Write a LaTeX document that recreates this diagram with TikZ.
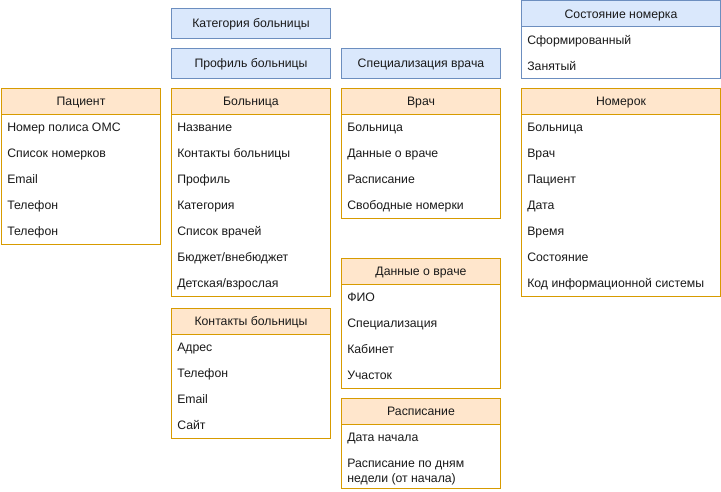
\documentclass[tikz,border=0pt]{standalone}
\usepackage{fontspec}
\setmainfont{Liberation Sans}
\definecolor{orfill}{HTML}{FFE6CC}
\definecolor{ordr}{HTML}{D79B00}
\definecolor{blfill}{HTML}{DAE8FC}
\definecolor{bldr}{HTML}{6C8EBF}
\definecolor{txt}{HTML}{1A1A1A}
\newcommand\px{0.75pt}
\tikzset{
  tx/.style={text=txt, font=\fontsize{9.2}{10.5}\selectfont, text height=7.35pt, text depth=1.15pt},
  ohead/.style={draw=ordr, fill=orfill, line width=\px, anchor=north west, inner sep=0pt, minimum height=26*\px, tx},
  obody/.style={draw=ordr, fill=white, line width=\px, anchor=north west, inner sep=0pt},
  bhead/.style={draw=bldr, fill=blfill, line width=\px, anchor=north west, inner sep=0pt, minimum height=26*\px, tx},
  bbody/.style={draw=bldr, fill=white, line width=\px, anchor=north west, inner sep=0pt},
  bsolo/.style={draw=bldr, fill=blfill, line width=\px, anchor=north west, inner sep=0pt, minimum height=30*\px, tx},
  item/.style={anchor=west, inner sep=0pt, tx},
  item2/.style={anchor=west, inner sep=0pt, text=txt, font=\fontsize{9.2}{11}\selectfont, align=left}
}
\begin{document}
\begin{tikzpicture}[x=0.75pt,y=-0.75pt]
\useasboundingbox (0,0) rectangle (721,492);
% blue boxes
\node[bsolo, minimum width=159*\px] (kat) at (171,8) {Категория больницы};
\node[bsolo, minimum width=159*\px] (prof) at (171,48) {Профиль больницы};
\node[bsolo, minimum width=159*\px] (spec) at (341,48) {Специализация врача};
% Состояние номерка
\node[bbody, minimum width=199*\px, minimum height=52*\px] (sostb) at (521,26) {};
\node[bhead, minimum width=199*\px] (sost) at (521,0.5) {Состояние номерка};
\node[item] (sost1) at (527,40) {Сформированный};
\node[item] (sost2) at (527,66) {Занятый};
% Пациент
\node[obody, minimum width=159*\px, minimum height=130*\px] (patb) at (1,114) {};
\node[ohead, minimum width=159*\px] (pat) at (1,88) {Пациент};
\foreach \t [count=\i] in {Номер полиса ОМС, Список номерков, Email, Телефон, Телефон}
  \node[item] (pat\i) at (7,101+26*\i) {\t};
% Больница
\node[obody, minimum width=159*\px, minimum height=182*\px] (hospb) at (171,114) {};
\node[ohead, minimum width=159*\px] (hosp) at (171,88) {Больница};
\foreach \t [count=\i] in {Название, Контакты больницы, Профиль, Категория, Список врачей, Бюджет/внебюджет, Детская/взрослая}
  \node[item] (hosp\i) at (177,101+26*\i) {\t};
% Контакты больницы
\node[obody, minimum width=159*\px, minimum height=104*\px] (contb) at (171,334) {};
\node[ohead, minimum width=159*\px] (cont) at (171,308) {Контакты больницы};
\foreach \t [count=\i] in {Адрес, Телефон, Email, Сайт}
  \node[item] (cont\i) at (177,321+26*\i) {\t};
% Врач
\node[obody, minimum width=159*\px, minimum height=104*\px] (docb) at (341,114) {};
\node[ohead, minimum width=159*\px] (doc) at (341,88) {Врач};
\foreach \t [count=\i] in {Больница, Данные о враче, Расписание, Свободные номерки}
  \node[item] (doc\i) at (347,101+26*\i) {\t};
% Данные о враче
\node[obody, minimum width=159*\px, minimum height=104*\px] (datab) at (341,284) {};
\node[ohead, minimum width=159*\px] (data) at (341,258) {Данные о враче};
\foreach \t [count=\i] in {ФИО, Специализация, Кабинет, Участок}
  \node[item] (data\i) at (347,271+26*\i) {\t};
% Расписание
\node[obody, minimum width=159*\px, minimum height=64*\px] (schb) at (341,424) {};
\node[ohead, minimum width=159*\px] (sch) at (341,398) {Расписание};
\node[item] (sch1) at (347,437) {Дата начала};
\node[item2] (sch2) at (347,472) {Расписание по дням\\недели (от начала)};
% Номерок
\node[obody, minimum width=199*\px, minimum height=182*\px] (numb) at (521,114) {};
\node[ohead, minimum width=199*\px] (num) at (521,88) {Номерок};
\foreach \t [count=\i] in {Больница, Врач, Пациент, Дата, Время, Состояние, Код информационной системы}
  \node[item] (num\i) at (527,101+26*\i) {\t};
\end{tikzpicture}
\end{document}
